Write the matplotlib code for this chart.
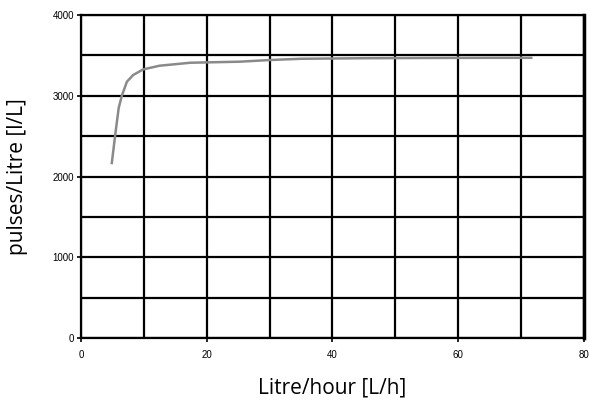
import matplotlib
matplotlib.use("Agg")
import matplotlib.pyplot as plt
from matplotlib.ticker import MultipleLocator

# flow rate [L/h] vs pulses per litre
flow = [4.9, 5.5, 6.0, 6.5, 7.3, 8.3, 9.9, 12.5, 17.4, 25.3, 30.1, 35.0, 45.0, 55.0, 65.0, 71.6]
pulses = [2167, 2550, 2850, 3000, 3174, 3257, 3327, 3372, 3409, 3422, 3443, 3458, 3465, 3468, 3470, 3470]

x_ticks = [0, 20, 40, 60, 80]
y_ticks = [0, 1000, 2000, 3000, 4000]

fig = plt.figure(figsize=(5.89, 4.08), dpi=100)
ax = fig.add_axes([0.1375, 0.1716, 0.854, 0.7916])

ax.plot(flow, pulses, color="#8a8a8a", linewidth=1.8, zorder=3)

ax.set_xlim(0, 80)
ax.set_ylim(0, 4000)
ax.set_xticks(x_ticks)
ax.set_yticks(y_ticks)
ax.xaxis.set_minor_locator(MultipleLocator(10))
ax.yaxis.set_minor_locator(MultipleLocator(500))
ax.grid(True, which="both", color="black", linewidth=1.6)
ax.set_axisbelow(True)
for s in ax.spines.values():
    s.set_linewidth(1.6)
ax.spines["right"].set_linewidth(2.5)
ax.tick_params(which="minor", length=0)
ax.tick_params(which="major", length=3, width=1.2, pad=2)
for lab in ax.get_xticklabels() + ax.get_yticklabels():
    lab.set_fontfamily("Liberation Sans")
    lab.set_fontsize(7)
ax.tick_params(axis="x", pad=6)

ax.set_xlabel("Litre/hour [L/h]", fontfamily="Open Sans", fontsize=15, labelpad=12)
ax.set_ylabel("pulses/Litre [l/L]", fontfamily="Open Sans", fontsize=15, labelpad=18)

fig.savefig("out.png", dpi=100)
